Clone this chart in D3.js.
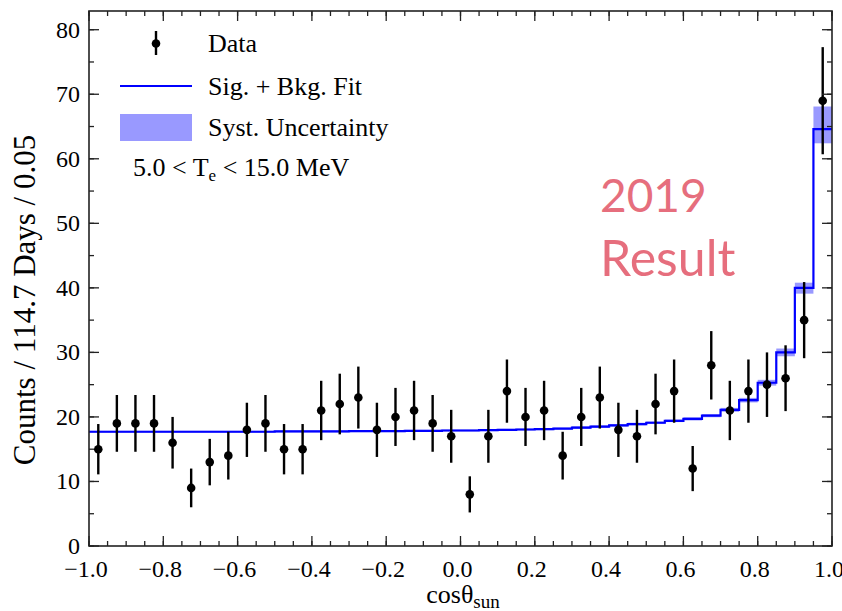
<!DOCTYPE html>
<html>
<head>
<meta charset="utf-8">
<script src="https://cdn.jsdelivr.net/npm/d3@7"></script>
<style>
  body { margin: 0; background: #fff; }
  svg text { font-family: "Liberation Serif", "DejaVu Serif", serif; fill: #000; }
</style>
</head>
<body>
<svg id="chart"></svg>
<script>
// data
const binEdges = d3.range(40).map(i => -1 + i * 0.05);
const centers = binEdges.map(e => e + 0.025);
const counts = [15, 19, 19, 19, 16, 9, 13, 14, 18, 19, 15, 15, 21, 22, 23, 18, 20, 21, 19, 17,
                8, 17, 24, 20, 21, 14, 20, 23, 18, 17, 22, 24, 12, 28, 21, 24, 25, 26, 35, 69];
const errs = [3.9, 4.4, 4.4, 4.4, 4.0, 3.0, 3.6, 3.7, 4.2, 4.4, 3.9, 3.9, 4.6, 4.7, 4.8, 4.2, 4.5, 4.6, 4.4, 4.1,
              2.8, 4.1, 4.9, 4.5, 4.6, 3.7, 4.5, 4.8, 4.2, 4.1, 4.7, 4.9, 3.5, 5.3, 4.6, 4.9, 5.0, 5.1, 5.9, 8.3];
const fit = [17.7, 17.7, 17.7, 17.7, 17.7, 17.7, 17.7, 17.7, 17.7, 17.7, 17.75, 17.75, 17.75, 17.75, 17.8, 17.8, 17.8, 17.85, 17.85, 17.9,
             17.9, 17.95, 18.0, 18.05, 18.1, 18.2, 18.35, 18.5, 18.7, 18.9, 19.1, 19.4, 19.7, 20.2, 21.1, 22.6, 25.3, 30.0, 40.0, 64.6];
const sysUp = [0.15, 0.15, 0.15, 0.15, 0.15, 0.15, 0.15, 0.15, 0.15, 0.15, 0.15, 0.15, 0.15, 0.15, 0.15, 0.15, 0.15, 0.15, 0.15, 0.15,
               0.15, 0.15, 0.15, 0.15, 0.15, 0.15, 0.2, 0.2, 0.2, 0.2, 0.2, 0.2, 0.25, 0.25, 0.3, 0.35, 0.45, 0.6, 0.8, 3.5];
const sysDn = [0.15, 0.15, 0.15, 0.15, 0.15, 0.15, 0.15, 0.15, 0.15, 0.15, 0.15, 0.15, 0.15, 0.15, 0.15, 0.15, 0.15, 0.15, 0.15, 0.15,
               0.15, 0.15, 0.15, 0.15, 0.15, 0.15, 0.2, 0.2, 0.2, 0.2, 0.2, 0.2, 0.25, 0.25, 0.3, 0.35, 0.45, 0.6, 0.9, 2.2];
const xTicks = [-1.0, -0.8, -0.6, -0.4, -0.2, 0.0, 0.2, 0.4, 0.6, 0.8, 1.0];
const yTicks = [0, 10, 20, 30, 40, 50, 60, 70, 80];

const width = 842, height = 611;
const margin = {left: 89, right: 10, top: 11, bottom: 65};
const yMax = 82.9;

const svg = d3.select('#chart').attr('width', width).attr('height', height);

const x = d3.scaleLinear().domain([-1, 1]).range([margin.left, width - margin.right]);
const y = d3.scaleLinear().domain([0, yMax]).range([height - margin.bottom, margin.top]);

svg.append('clipPath').attr('id', 'clip')
   .append('rect')
   .attr('x', x(-1)).attr('y', y(yMax))
   .attr('width', x(1) - x(-1)).attr('height', y(0) - y(yMax));

const plot = svg.append('g').attr('clip-path', 'url(#clip)');

// syst band
plot.selectAll('rect.band')
    .data(fit)
    .enter()
    .append('rect')
    .attr('class', 'band')
    .attr('x', (d, i) => x(binEdges[i]))
    .attr('width', (d, i) => x(binEdges[i] + 0.05) - x(binEdges[i]))
    .attr('y', (d, i) => y(d + sysUp[i]))
    .attr('height', (d, i) => y(d - sysDn[i]) - y(d + sysUp[i]))
    .attr('fill', 'rgba(0,0,255,0.4)');

// fit step line
const stepPts = fit.map((d, i) => [binEdges[i], d]).concat([[1.0, fit[fit.length - 1]]]);
plot.append('path')
    .datum(stepPts)
    .attr('fill', 'none')
    .attr('stroke', '#0000ff')
    .attr('stroke-width', 2.2)
    .attr('d', d3.line().x(d => x(d[0])).y(d => y(d[1])).curve(d3.curveStepAfter));

// data points
const pts = plot.append('g');
pts.selectAll('line')
   .data(counts)
   .enter()
   .append('line')
   .attr('x1', (d, i) => x(centers[i])).attr('x2', (d, i) => x(centers[i]))
   .attr('y1', (d, i) => y(d - errs[i])).attr('y2', (d, i) => y(d + errs[i]))
   .attr('stroke', '#000').attr('stroke-width', 2.4);
pts.selectAll('circle')
   .data(counts)
   .enter()
   .append('circle')
   .attr('cx', (d, i) => x(centers[i]))
   .attr('cy', d => y(d))
   .attr('r', 4.3)
   .attr('fill', '#000');

// axes: ticks inward on all four sides
function tickSet(g, scale, vals, len, orient) {
  g.selectAll(null).data(vals).enter().append('line')
   .each(function(v) {
     const s = d3.select(this).attr('stroke', '#222').attr('stroke-width', 1.3);
     if (orient === 'bottom') s.attr('x1', scale(v)).attr('x2', scale(v)).attr('y1', y(0)).attr('y2', y(0) - len);
     if (orient === 'top') s.attr('x1', scale(v)).attr('x2', scale(v)).attr('y1', y(yMax)).attr('y2', y(yMax) + len);
     if (orient === 'left') s.attr('y1', scale(v)).attr('y2', scale(v)).attr('x1', x(-1)).attr('x2', x(-1) + len);
     if (orient === 'right') s.attr('y1', scale(v)).attr('y2', scale(v)).attr('x1', x(1)).attr('x2', x(1) - len);
   });
}
const ax = svg.append('g');
const xMinor = d3.range(-1, 1.0001, 0.05);
const yMinor = d3.range(0, 82, 5);
tickSet(ax, x, xMinor, 5, 'bottom');
tickSet(ax, x, xMinor, 5, 'top');
tickSet(ax, x, xTicks, 10, 'bottom');
tickSet(ax, x, xTicks, 10, 'top');
tickSet(ax, y, yMinor, 5, 'left');
tickSet(ax, y, yMinor, 5, 'right');
tickSet(ax, y, yTicks, 10, 'left');
tickSet(ax, y, yTicks, 10, 'right');

ax.append('rect')
  .attr('x', x(-1)).attr('y', y(yMax))
  .attr('width', x(1) - x(-1)).attr('height', y(0) - y(yMax))
  .attr('fill', 'none').attr('stroke', '#222').attr('stroke-width', 1.6);

ax.selectAll('text.xt')
  .data(xTicks)
  .enter()
  .append('text')
  .attr('x', d => x(d) - 3).attr('y', y(0) + 31)
  .attr('text-anchor', 'middle')
  .attr('font-size', 24)
  .text(d => d.toFixed(1).replace('-', '\u2212'));

ax.selectAll('text.yt')
  .data(yTicks)
  .enter()
  .append('text')
  .attr('x', x(-1) - 9).attr('y', d => y(d) + 8)
  .attr('text-anchor', 'end')
  .attr('font-size', 24)
  .text(d => d);

// axis titles
const xl = svg.append('text')
  .attr('x', 463).attr('y', 603)
  .attr('text-anchor', 'middle')
  .attr('font-size', 26);
xl.append('tspan').text('cos\u03b8');
xl.append('tspan').attr('font-size', 19).attr('dy', 5).text('sun');

svg.append('text')
  .attr('transform', 'translate(35,' + 300 + ') rotate(-90)')
  .attr('text-anchor', 'middle')
  .attr('font-size', 31)
  .text('Counts / 114.7 Days / 0.05');

// legend
const lg = svg.append('g');
lg.append('line').attr('x1', 156).attr('x2', 156).attr('y1', 31).attr('y2', 55)
  .attr('stroke', '#000').attr('stroke-width', 2.4);
lg.append('circle').attr('cx', 156).attr('cy', 43.5).attr('r', 4.3).attr('fill', '#000');
lg.append('text').attr('x', 208).attr('y', 52).attr('font-size', 26).text('Data');

lg.append('line').attr('x1', 120).attr('x2', 192).attr('y1', 86).attr('y2', 86)
  .attr('stroke', '#0000ff').attr('stroke-width', 2.2);
lg.append('text').attr('x', 208).attr('y', 95).attr('font-size', 26).text('Sig. + Bkg. Fit');

lg.append('rect').attr('x', 120).attr('y', 114).attr('width', 72).attr('height', 27)
  .attr('fill', 'rgba(0,0,255,0.4)');
lg.append('text').attr('x', 208).attr('y', 136).attr('font-size', 26).text('Syst. Uncertainty');

const cut = lg.append('text').attr('x', 133).attr('y', 176).attr('font-size', 26);
cut.append('tspan').text('5.0 < T');
cut.append('tspan').attr('font-size', 17).attr('dy', 5).text('e');
cut.append('tspan').attr('dy', -5).text(' < 15.0 MeV');

// annotation
svg.append('text').attr('x', 600).attr('y', 212)
  .style('font-family', 'Lato, "Open Sans", sans-serif')
  .attr('font-size', 46).style('fill', '#e66e7d').text('2019');
svg.append('text').attr('x', 600).attr('y', 276)
  .style('font-family', 'Lato, "Open Sans", sans-serif')
  .attr('font-size', 50).style('fill', '#e66e7d').text('Result');
</script>
</body>
</html>
